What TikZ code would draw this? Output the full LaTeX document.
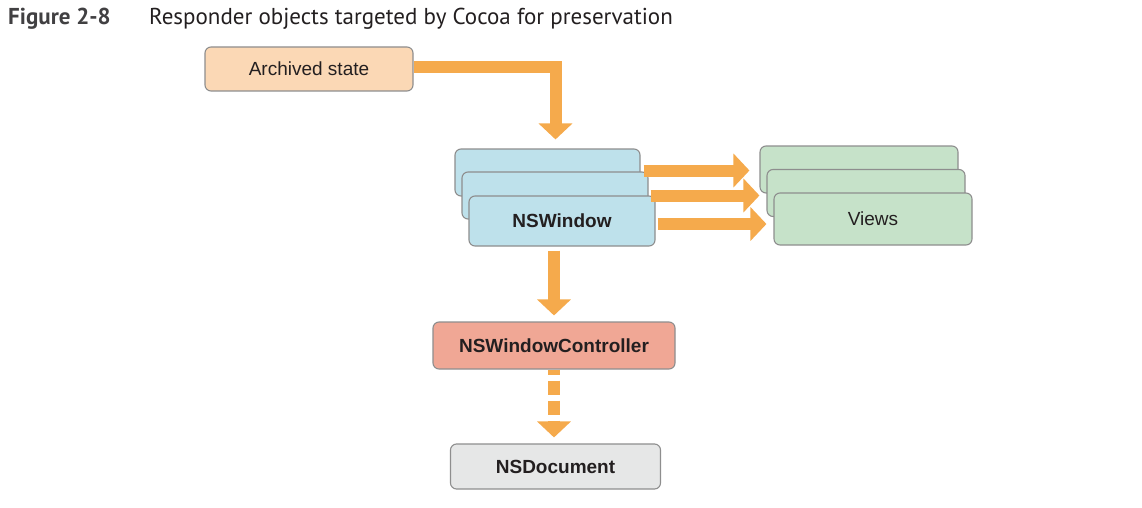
\documentclass[tikz,border=0pt]{standalone}
\usepackage{fontspec}
\setmainfont{Liberation Sans}
\newfontfamily\captionfont{PT Sans}
\usepackage{xcolor}
\usepackage{tikz}
\usetikzlibrary{positioning}
\usetikzlibrary{arrows.meta}

\definecolor{flowc}{HTML}{F5AA4C}
\definecolor{boxline}{HTML}{8E8E8E}
\definecolor{statec}{HTML}{FBD8B5}
\definecolor{windowc}{HTML}{BEE1EB}
\definecolor{viewc}{HTML}{C6E2C9}
\definecolor{ctrlc}{HTML}{F0A795}
\definecolor{docc}{HTML}{E6E7E7}
\definecolor{titlec}{HTML}{231F20}
\definecolor{figurec}{HTML}{414042}

\begin{document}
\begin{tikzpicture}[x=1pt, y=-1pt,
  box/.style={draw=boxline, line width=1.1pt, rounded corners=6pt, inner sep=0pt, text=titlec, font=\fontsize{19}{22}\selectfont},
  flow/.style={draw=flowc, line width=12pt, -{Triangle[length=16pt, width=33pt]}}]
\useasboundingbox (0,0) rectangle (1142,508);

\node (figure) [anchor=base west, inner sep=0pt, text=figurec, font=\captionfont\bfseries\fontsize{23}{27}\selectfont] at (8,25) {Figure 2-8};
\node (caption) [anchor=base west, inner sep=0pt, text=titlec, font=\captionfont\fontsize{23}{27}\selectfont] at (149,25) {Responder objects targeted by Cocoa for preservation};

\node (archived state) [box, fill=statec, minimum width=208pt, minimum height=44pt] at (309,69) {Archived state};

\node (window back) [box, fill=windowc, minimum width=185pt, minimum height=47pt] at (547.5,172.5) {};
\node (window middle) [box, fill=windowc, minimum width=186pt, minimum height=47pt] at (555,195.5) {};
\node (window) [box, fill=windowc, minimum width=186pt, minimum height=50pt, font=\bfseries\fontsize{19}{22}\selectfont] at (562,221) {NSWindow};

\node (views back) [box, fill=viewc, minimum width=198pt, minimum height=47pt] at (859,169.5) {};
\node (views middle) [box, fill=viewc, minimum width=198pt, minimum height=47pt] at (866,193) {};
\node (views) [box, fill=viewc, minimum width=198pt, minimum height=52pt] at (873,219) {Views};

\node (window controller) [box, fill=ctrlc, minimum width=242pt, minimum height=47pt, font=\bfseries\fontsize{19}{22}\selectfont] at (554,345.5) {NSWindowController};
\node (document) [box, fill=docc, minimum width=210pt, minimum height=45pt, font=\bfseries\fontsize{19}{22}\selectfont] at (555.5,466.5) {NSDocument};

\draw [flow, shorten >=9pt] ([yshift=2pt]archived state.east) -| ([xshift=8pt]window back.north);

\draw [flow, shorten <=3pt, shorten >=10pt] ([yshift=2pt]window back.east) -- ([yshift=2pt]window back.east -| views back.west);
\draw [flow, shorten <=2pt, shorten >=7pt] (window middle.east) -- (window middle.east -| views middle.west);
\draw [flow, shorten <=2pt, shorten >=7pt] ([yshift=-3pt]window.east) -- ([yshift=-3pt]window.east -| views.west);

\draw [flow, shorten <=4pt, shorten >=6pt] (window.south -| window controller.north) -- (window controller.north);
\draw [flow, dash pattern=on 14pt off 6pt, dash phase=9pt, shorten >=6pt] (window controller.south) -- (window controller.south |- document.north);

\end{tikzpicture}
\end{document}
